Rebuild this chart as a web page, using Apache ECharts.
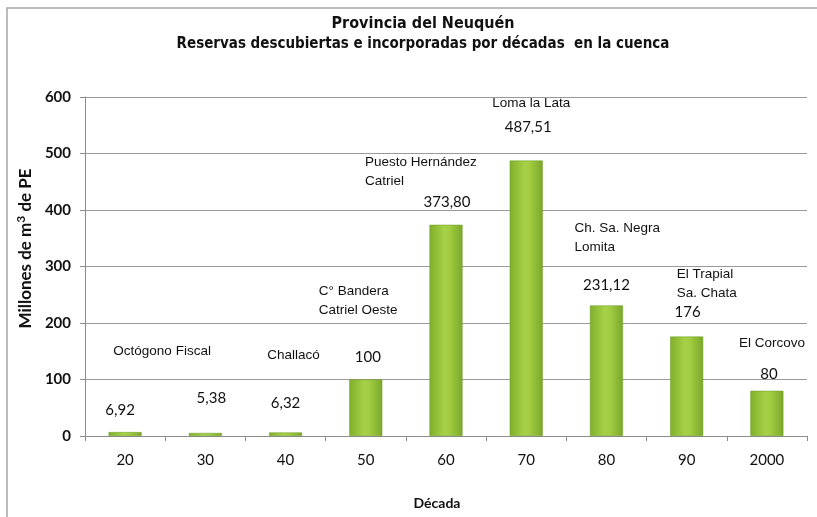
<!DOCTYPE html>
<html>
<head>
<meta charset="utf-8">
<script src="https://cdn.jsdelivr.net/npm/echarts@6/dist/echarts.min.js"></script>
<style>
  html, body { margin: 0; padding: 0; background: #fff; }
  #chart { width: 817px; height: 517px; }
</style>
</head>
<body>
<div id="chart"></div>
<script>
  // datos
  const decadas = ['20', '30', '40', '50', '60', '70', '80', '90', '2000'];
  const reservas = [6.92, 5.38, 6.32, 100, 373.80, 487.51, 231.12, 176, 80];
  const yacimientos = ['Octógono Fiscal', '', 'Challacó', 'C° Bandera\nCatriel Oeste', 'Puesto Hernández\nCatriel',
    'Loma la Lata', 'Ch. Sa. Negra\nLomita', 'El Trapial\nSa. Chata', 'El Corcovo'];
  const yTicks = [0, 100, 200, 300, 400, 500, 600];

  // desplazamientos de las etiquetas (px)
  const offValor = [[-5, -14], [6, -27], [0, -22], [2, -15], [1, -15], [2, -26], [0, -13], [1, -17], [2, -9]];
  const offNombre = [[37, -71], [0, 0], [8, -68], [-47, -60], [-81, -34], [5, -48], [-32, -49], [-10, -34], [5, -38]];
  const alinNombre = ['center', 'center', 'center', 'left', 'left', 'center', 'left', 'left', 'center'];

  function fmt(v) {
    return Number.isInteger(v) ? String(v) : v.toFixed(2).replace('.', ',');
  }

  const verde = new echarts.graphic.LinearGradient(0, 0, 1, 0, [
    { offset: 0, color: '#7faf2c' },
    { offset: 0.45, color: '#a6d146' },
    { offset: 0.6, color: '#a2cd42' },
    { offset: 1, color: '#7aa82a' }
  ]);

  let myChart = echarts.init(document.getElementById('chart'));
  let option = {
    backgroundColor: '#fff',
    animation: false,
    graphic: [
      { type: 'rect', shape: { x: 7, y: 8, width: 830, height: 530 }, style: { fill: 'none', stroke: '#a6a6a6', lineWidth: 1.5 } }
    ],
    title: {
      text: 'Provincia del Neuquén',
      subtext: 'Reservas descubiertas e incorporadas por décadas  en la cuenca',
      left: 418,
      textAlign: 'center',
      top: 11,
      itemGap: 5,
      textStyle: { fontFamily: "'DejaVu Sans Condensed', sans-serif", fontWeight: 'bold', fontSize: 16, color: '#111' },
      subtextStyle: { fontFamily: "'DejaVu Sans Condensed', sans-serif", fontWeight: 'bold', fontSize: 15, color: '#111' }
    },
    grid: { left: 85, right: 10, top: 97, bottom: 81 },
    xAxis: {
      type: 'category',
      data: decadas,
      name: 'Década',
      nameLocation: 'middle',
      nameGap: 60,
      nameTextStyle: { fontFamily: 'Lato', fontWeight: 'bold', fontSize: 14, color: '#111', padding: [0, 18, 0, 0] },
      axisLine: { lineStyle: { color: '#8c8c8c' } },
      axisTick: { show: true, length: 5, lineStyle: { color: '#8c8c8c' } },
      axisLabel: { fontFamily: 'Lato', fontSize: 15, color: '#111', margin: 17 }
    },
    yAxis: {
      type: 'value',
      min: 0,
      max: 600,
      interval: 100,
      name: 'Millones de m{sup|3} de PE',
      nameLocation: 'middle',
      nameGap: 46,
      nameTextStyle: {
        fontFamily: 'Lato', fontWeight: 'bold', fontSize: 17, color: '#111', padding: [0, 0, 0, 36],
        rich: { sup: { fontFamily: 'Lato', fontWeight: 'bold', fontSize: 12, verticalAlign: 'bottom', padding: [0, 0, 9, 0], color: '#111' } }
      },
      axisLine: { show: true, lineStyle: { color: '#8c8c8c' } },
      axisTick: { show: true, length: 5, lineStyle: { color: '#8c8c8c' } },
      splitLine: { lineStyle: { color: '#9a9a9a', width: 1 } },
      axisLabel: {
        fontFamily: 'Lato', fontWeight: 'bold', fontSize: 15, color: '#111', margin: 14,
        formatter: function (v) { return yTicks.indexOf(v) >= 0 ? String(v) : ''; }
      }
    },
    series: [
      {
        name: 'Reservas',
        type: 'bar',
        barWidth: 33,
        data: reservas.map(function (v, i) {
          return {
            value: v,
            label: { offset: offValor[i] }
          };
        }),
        itemStyle: { color: verde, borderColor: '#6e9a24', borderWidth: 0.5 },
        label: {
          show: true,
          position: 'top',
          distance: 0,
          fontFamily: 'Lato',
          fontSize: 15,
          color: '#111',
          formatter: function (p) { return fmt(p.value); }
        }
      },
      {
        name: 'Yacimientos',
        type: 'bar',
        barWidth: 33,
        barGap: '-100%',
        silent: true,
        z: 1,
        data: reservas.map(function (v, i) {
          return {
            value: v,
            label: { offset: offNombre[i], align: alinNombre[i] }
          };
        }),
        itemStyle: { color: 'rgba(0,0,0,0)' },
        label: {
          show: true,
          position: 'top',
          distance: 0,
          fontFamily: "'Liberation Sans', sans-serif",
          fontSize: 13.5,
          lineHeight: 19,
          color: '#111',
          formatter: function (p) { return yacimientos[p.dataIndex]; }
        }
      }
    ]
  };
  myChart.setOption(option);
</script>
</body>
</html>
